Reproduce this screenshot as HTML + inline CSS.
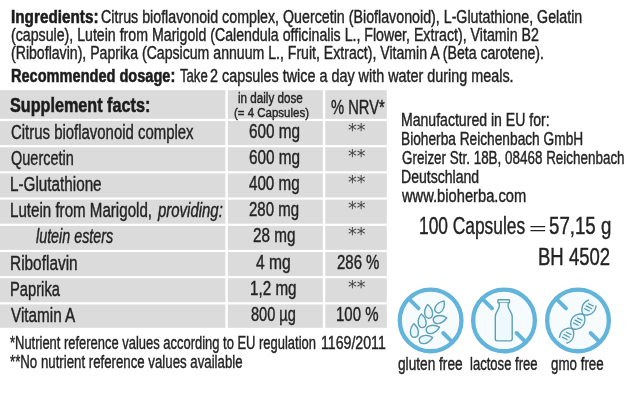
<!DOCTYPE html>
<html lang="en"><head><meta charset="utf-8"><title>Supplement facts</title>
<style>
html,body{margin:0;padding:0;background:#fff;}
body{width:633px;height:407px;position:relative;overflow:hidden;font-family:"Liberation Sans", sans-serif;color:#232323;}
.t{position:absolute;white-space:nowrap;line-height:1;transform-origin:0 0;-webkit-text-stroke:0.4px currentColor;}
.b{font-weight:700;-webkit-text-stroke-width:0.55px;}
.c{position:absolute;background:#dbdbdb;}
svg{position:absolute;left:0;top:0;}
</style></head><body>
<svg width="633" height="407" viewBox="0 0 633 407" fill="#dbdbdb">
<rect x="0.00" y="90.20" width="225.40" height="28.65"/>
<rect x="227.80" y="90.20" width="95.05" height="28.65"/>
<rect x="325.25" y="90.20" width="61.55" height="28.65"/>
<rect x="0.00" y="121.05" width="225.40" height="24.00"/>
<rect x="227.80" y="121.05" width="95.05" height="24.00"/>
<rect x="325.25" y="121.05" width="61.55" height="24.00"/>
<rect x="0.00" y="147.25" width="225.40" height="24.00"/>
<rect x="227.80" y="147.25" width="95.05" height="24.00"/>
<rect x="325.25" y="147.25" width="61.55" height="24.00"/>
<rect x="0.00" y="173.45" width="225.40" height="24.00"/>
<rect x="227.80" y="173.45" width="95.05" height="24.00"/>
<rect x="325.25" y="173.45" width="61.55" height="24.00"/>
<rect x="0.00" y="199.65" width="225.40" height="24.00"/>
<rect x="227.80" y="199.65" width="95.05" height="24.00"/>
<rect x="325.25" y="199.65" width="61.55" height="24.00"/>
<rect x="0.00" y="225.85" width="225.40" height="24.00"/>
<rect x="227.80" y="225.85" width="95.05" height="24.00"/>
<rect x="325.25" y="225.85" width="61.55" height="24.00"/>
<rect x="0.00" y="252.05" width="225.40" height="24.00"/>
<rect x="227.80" y="252.05" width="95.05" height="24.00"/>
<rect x="325.25" y="252.05" width="61.55" height="24.00"/>
<rect x="0.00" y="278.25" width="225.40" height="24.00"/>
<rect x="227.80" y="278.25" width="95.05" height="24.00"/>
<rect x="325.25" y="278.25" width="61.55" height="24.00"/>
<rect x="0.00" y="304.45" width="225.40" height="23.35"/>
<rect x="227.80" y="304.45" width="95.05" height="23.35"/>
<rect x="325.25" y="304.45" width="61.55" height="23.35"/>
</svg>
<span class="t b" style="left:10.92px;top:9.19px;font-size:17.5px;color:#1c1c1c;transform:scaleX(0.8737);">Ingredients:</span>
<span class="t" style="left:100.57px;top:9.19px;font-size:17.5px;transform:scaleX(0.8137);">Citrus bioflavonoid complex, Quercetin (Bioflavonoid), L-Glutathione, Gelatin</span>
<span class="t" style="left:11.33px;top:27.19px;font-size:17.5px;transform:scaleX(0.8096);">(capsule), Lutein from Marigold (Calendula officinalis L., Flower, Extract), Vitamin B2</span>
<span class="t" style="left:11.34px;top:45.19px;font-size:17.5px;transform:scaleX(0.8062);">(Riboflavin), Paprika (Capsicum annuum L., Fruit, Extract), Vitamin A (Beta carotene).</span>
<span class="t b" style="left:10.90px;top:68.19px;font-size:17.5px;color:#1c1c1c;transform:scaleX(0.8324);">Recommended dosage:</span>
<span class="t" style="left:180.15px;top:68.19px;font-size:17.5px;transform:scaleX(0.7505);">Take</span>
<span class="t" style="left:210.27px;top:68.19px;font-size:17.5px;transform:scaleX(0.8214);">2 capsules twice a day with water during meals.</span>
<span class="t b" style="left:9.98px;top:95.07px;font-size:20px;color:#1c1c1c;transform:scaleX(0.8091);">Supplement facts:</span>
<span class="t" style="left:238.29px;top:91.15px;font-size:14px;transform:scaleX(0.8324);">in daily dose</span>
<span class="t" style="left:233.50px;top:105.57px;font-size:13.5px;transform:scaleX(0.8503);">(= 4 Capsules)</span>
<span class="t" style="left:330.90px;top:98.49px;font-size:19.5px;transform:scaleX(0.7552);">% NRV*</span>
<span class="t" style="left:10.83px;top:123.49px;font-size:19.5px;transform:scaleX(0.7655);">Citrus bioflavonoid complex</span>
<span class="t" style="left:10.75px;top:149.49px;font-size:19.5px;transform:scaleX(0.7433);">Quercetin</span>
<span class="t" style="left:10.03px;top:175.49px;font-size:19.5px;transform:scaleX(0.7824);">L-Glutathione</span>
<span class="t" style="left:10.05px;top:201.49px;font-size:19.5px;transform:scaleX(0.7753);">Lutein from Marigold,</span>
<span class="t" style="left:158.09px;top:201.49px;font-size:19.5px;font-style:italic;transform:scaleX(0.7662);">providing:</span>
<span class="t" style="left:35.54px;top:227.49px;font-size:19.5px;font-style:italic;transform:scaleX(0.7343);">lutein esters</span>
<span class="t" style="left:10.00px;top:254.49px;font-size:19.5px;transform:scaleX(0.7903);">Riboflavin</span>
<span class="t" style="left:10.11px;top:280.49px;font-size:19.5px;transform:scaleX(0.7553);">Paprika</span>
<span class="t" style="left:10.50px;top:306.49px;font-size:19.5px;transform:scaleX(0.7827);">Vitamin A</span>
<span class="t" style="left:248.58px;top:122.49px;font-size:19.5px;transform:scaleX(0.7859);">600 mg</span>
<span class="t" style="left:248.58px;top:148.49px;font-size:19.5px;transform:scaleX(0.7859);">600 mg</span>
<span class="t" style="left:248.52px;top:174.49px;font-size:19.5px;transform:scaleX(0.7779);">400 mg</span>
<span class="t" style="left:248.54px;top:200.49px;font-size:19.5px;transform:scaleX(0.7685);">280 mg</span>
<span class="t" style="left:252.70px;top:226.49px;font-size:19.5px;transform:scaleX(0.7829);">28 mg</span>
<span class="t" style="left:256.31px;top:253.49px;font-size:19.5px;transform:scaleX(0.8014);">4 mg</span>
<span class="t" style="left:250.38px;top:279.49px;font-size:19.5px;transform:scaleX(0.7804);">1,2 mg</span>
<span class="t" style="left:251.22px;top:305.49px;font-size:19.5px;transform:scaleX(0.7475);">800 µg</span>
<span class="t" style="left:348.41px;top:122.19px;font-size:17.5px;color:#454545;font-family:'DejaVu Sans',sans-serif;-webkit-text-stroke-width:0px;transform:scaleX(1.0026);">**</span>
<span class="t" style="left:348.41px;top:148.19px;font-size:17.5px;color:#454545;font-family:'DejaVu Sans',sans-serif;-webkit-text-stroke-width:0px;transform:scaleX(1.0026);">**</span>
<span class="t" style="left:348.41px;top:174.19px;font-size:17.5px;color:#454545;font-family:'DejaVu Sans',sans-serif;-webkit-text-stroke-width:0px;transform:scaleX(1.0026);">**</span>
<span class="t" style="left:348.41px;top:200.19px;font-size:17.5px;color:#454545;font-family:'DejaVu Sans',sans-serif;-webkit-text-stroke-width:0px;transform:scaleX(1.0026);">**</span>
<span class="t" style="left:348.41px;top:226.19px;font-size:17.5px;color:#454545;font-family:'DejaVu Sans',sans-serif;-webkit-text-stroke-width:0px;transform:scaleX(1.0026);">**</span>
<span class="t" style="left:348.41px;top:279.19px;font-size:17.5px;color:#454545;font-family:'DejaVu Sans',sans-serif;-webkit-text-stroke-width:0px;transform:scaleX(1.0026);">**</span>
<span class="t" style="left:336.73px;top:253.49px;font-size:19.5px;transform:scaleX(0.7668);">286 %</span>
<span class="t" style="left:336.24px;top:305.49px;font-size:19.5px;transform:scaleX(0.7678);">100 %</span>
<span class="t" style="left:10.30px;top:335.19px;font-size:17.5px;transform:scaleX(0.7400);">*Nutrient reference values according to EU regulation</span>
<span class="t" style="left:321.47px;top:335.19px;font-size:17.5px;transform:scaleX(0.8088);">1169/2011</span>
<span class="t" style="left:10.28px;top:354.19px;font-size:17.5px;transform:scaleX(0.7566);">**No nutrient reference values available</span>
<span class="t" style="left:401.18px;top:112.19px;font-size:17.5px;transform:scaleX(0.8039);">Manufactured in EU for:</span>
<span class="t" style="left:401.23px;top:131.19px;font-size:17.5px;transform:scaleX(0.7835);">Bioherba Reichenbach GmbH</span>
<span class="t" style="left:401.65px;top:150.19px;font-size:17.5px;transform:scaleX(0.7678);">Greizer Str. 18B, 08468 Reichenbach</span>
<span class="t" style="left:401.39px;top:169.19px;font-size:17.5px;transform:scaleX(0.8029);">Deutschland</span>
<span class="t" style="left:401.73px;top:188.19px;font-size:17.5px;transform:scaleX(0.8399);">www.bioherba.com</span>
<span class="t" style="left:418.54px;top:215.11px;font-size:23.5px;transform:scaleX(0.7380);">100 Capsules</span>
<span class="t" style="left:528.59px;top:219.61px;font-size:17px;-webkit-text-stroke-width:0px;transform:scaleX(1.7767);">=</span>
<span class="t" style="left:549.28px;top:215.11px;font-size:23.5px;transform:scaleX(0.7940);">57,15 g</span>
<span class="t" style="left:538.49px;top:246.11px;font-size:23.5px;transform:scaleX(0.7884);">BH 4502</span>
<span class="t" style="left:398.37px;top:356.19px;font-size:17.5px;transform:scaleX(0.7817);">gluten free</span>
<span class="t" style="left:469.90px;top:356.19px;font-size:17.5px;transform:scaleX(0.7467);">lactose free</span>
<span class="t" style="left:550.59px;top:356.19px;font-size:17.5px;transform:scaleX(0.7627);">gmo free</span>
<svg width="633" height="407" viewBox="0 0 633 407" fill="none">
<g stroke="#62b4da" stroke-width="4.3" fill="#f6fcfe">
<circle cx="430.6" cy="320.4" r="30.85"/>
<circle cx="504.0" cy="320.4" r="30.85"/>
<circle cx="578.0" cy="320.4" r="30.85"/>
</g>
<g stroke="#62b4da" stroke-width="3.9" stroke-linecap="round">
<path d="M408.8 298.6 L418.6 308.4 M443.2 333.0 L452.4 342.2"/>
<path d="M482.2 298.6 L492.0 308.4 M516.6 333.0 L525.8 342.2"/>
<path d="M556.2 298.6 L566.0 308.4 M590.6 333.0 L599.8 342.2"/>
</g>
<g stroke="#5f9fb6" stroke-width="1.4" stroke-linejoin="round" fill="#eaf8fc">
<path transform="translate(440.2 306.6) rotate(34)" d="M0,-6.9 C3.0,-3.8 4.2,0.2 3.9,2.8 C3.5,5.7 1.7,6.8 0,6.8 C-1.7,6.8 -3.5,5.7 -3.9,2.8 C-4.2,0.2 -3.0,-3.8 0,-6.9Z"/>
<path transform="translate(428.4 311.4) rotate(-7)" d="M0,-6.9 C3.0,-3.8 4.2,0.2 3.9,2.8 C3.5,5.7 1.7,6.8 0,6.8 C-1.7,6.8 -3.5,5.7 -3.9,2.8 C-4.2,0.2 -3.0,-3.8 0,-6.9Z"/>
<path transform="translate(440.0 319.2) rotate(78)" d="M0,-6.9 C3.0,-3.8 4.2,0.2 3.9,2.8 C3.5,5.7 1.7,6.8 0,6.8 C-1.7,6.8 -3.5,5.7 -3.9,2.8 C-4.2,0.2 -3.0,-3.8 0,-6.9Z"/>
<path transform="translate(422.0 320.8) rotate(-5)" d="M0,-6.9 C3.0,-3.8 4.2,0.2 3.9,2.8 C3.5,5.7 1.7,6.8 0,6.8 C-1.7,6.8 -3.5,5.7 -3.9,2.8 C-4.2,0.2 -3.0,-3.8 0,-6.9Z"/>
<path transform="translate(432.9 329.0) rotate(74)" d="M0,-6.9 C3.0,-3.8 4.2,0.2 3.9,2.8 C3.5,5.7 1.7,6.8 0,6.8 C-1.7,6.8 -3.5,5.7 -3.9,2.8 C-4.2,0.2 -3.0,-3.8 0,-6.9Z"/>
<path transform="translate(414.3 330.5) rotate(-4)" d="M0,-6.9 C3.0,-3.8 4.2,0.2 3.9,2.8 C3.5,5.7 1.7,6.8 0,6.8 C-1.7,6.8 -3.5,5.7 -3.9,2.8 C-4.2,0.2 -3.0,-3.8 0,-6.9Z"/>
<path transform="translate(426.0 339.1) rotate(75)" d="M0,-6.9 C3.0,-3.8 4.2,0.2 3.9,2.8 C3.5,5.7 1.7,6.8 0,6.8 C-1.7,6.8 -3.5,5.7 -3.9,2.8 C-4.2,0.2 -3.0,-3.8 0,-6.9Z"/>
</g>
<g stroke="#5f9fb6" stroke-width="1.4" stroke-linejoin="round" fill="#eef9fd">
<rect x="497.9" y="299.8" width="11.6" height="3.2" rx="0.7"/>
<path d="M499.3 303 V305.8 C499.3 309.8 495.3 311.8 495.3 316.8 V339.1 Q495.3 340.9 497.1 340.9 H510.4 Q512.2 340.9 512.2 339.1 V316.8 C512.2 311.8 508.1 309.8 508.1 305.8 V303"/>
</g>
<g transform="translate(577.8 321.6) rotate(-52.0)" stroke="#5f9fb6" stroke-width="1.4" stroke-linecap="round" stroke-linejoin="round">
<ellipse cx="-18.10" cy="0" rx="7.6" ry="5.6" fill="#e8f7fb" stroke="none"/>
<ellipse cx="0.00" cy="0" rx="7.6" ry="5.6" fill="#e8f7fb" stroke="none"/>
<ellipse cx="18.10" cy="0" rx="7.6" ry="5.6" fill="#e8f7fb" stroke="none"/>
<path d="M-23.53 4.65 L-22.88 5.06 L-22.22 5.41 L-21.57 5.70 L-20.92 5.94 L-20.26 6.13 L-19.61 6.27 L-18.95 6.36 L-18.30 6.40 L-17.65 6.39 L-16.99 6.33 L-16.34 6.22 L-15.69 6.06 L-15.03 5.85 L-14.38 5.59 L-13.73 5.28 L-13.07 4.91 L-12.42 4.48 L-11.77 3.98 L-11.11 3.41 L-10.46 2.73 L-9.80 1.89 L-9.15 0.56 L-8.50 -1.57 L-7.84 -2.49 L-7.19 -3.21 L-6.54 -3.82 L-5.88 -4.34 L-5.23 -4.78 L-4.58 -5.17 L-3.92 -5.50 L-3.27 -5.78 L-2.61 -6.00 L-1.96 -6.18 L-1.31 -6.30 L-0.65 -6.38 L0.00 -6.40 L0.65 -6.38 L1.31 -6.30 L1.96 -6.18 L2.61 -6.00 L3.27 -5.78 L3.92 -5.50 L4.58 -5.17 L5.23 -4.78 L5.88 -4.34 L6.54 -3.82 L7.19 -3.21 L7.84 -2.49 L8.50 -1.57 L9.15 0.56 L9.80 1.89 L10.46 2.73 L11.11 3.41 L11.77 3.98 L12.42 4.48 L13.07 4.91 L13.73 5.28 L14.38 5.59 L15.03 5.85 L15.69 6.06 L16.34 6.22 L16.99 6.33 L17.65 6.39 L18.30 6.40 L18.95 6.36 L19.61 6.27 L20.26 6.13 L20.92 5.94 L21.57 5.70 L22.22 5.41 L22.88 5.06 L23.53 4.65"/>
<path d="M-23.53 -4.65 L-22.88 -5.06 L-22.22 -5.41 L-21.57 -5.70 L-20.92 -5.94 L-20.26 -6.13 L-19.61 -6.27 L-18.95 -6.36 L-18.30 -6.40 L-17.65 -6.39 L-16.99 -6.33 L-16.34 -6.22 L-15.69 -6.06 L-15.03 -5.85 L-14.38 -5.59 L-13.73 -5.28 L-13.07 -4.91 L-12.42 -4.48 L-11.77 -3.98 L-11.11 -3.41 L-10.46 -2.73 L-9.80 -1.89 L-9.15 -0.56 L-8.50 1.57 L-7.84 2.49 L-7.19 3.21 L-6.54 3.82 L-5.88 4.34 L-5.23 4.78 L-4.58 5.17 L-3.92 5.50 L-3.27 5.78 L-2.61 6.00 L-1.96 6.18 L-1.31 6.30 L-0.65 6.38 L0.00 6.40 L0.65 6.38 L1.31 6.30 L1.96 6.18 L2.61 6.00 L3.27 5.78 L3.92 5.50 L4.58 5.17 L5.23 4.78 L5.88 4.34 L6.54 3.82 L7.19 3.21 L7.84 2.49 L8.50 1.57 L9.15 -0.56 L9.80 -1.89 L10.46 -2.73 L11.11 -3.41 L11.77 -3.98 L12.42 -4.48 L13.07 -4.91 L13.73 -5.28 L14.38 -5.59 L15.03 -5.85 L15.69 -6.06 L16.34 -6.22 L16.99 -6.33 L17.65 -6.39 L18.30 -6.40 L18.95 -6.36 L19.61 -6.27 L20.26 -6.13 L20.92 -5.94 L21.57 -5.70 L22.22 -5.41 L22.88 -5.06 L23.53 -4.65"/>
<g stroke="#4f98a8" stroke-width="1.2">
<path d="M-21.80 -2.50 L-20.80 2.50"/>
<path d="M-18.60 -3.00 L-17.60 3.00"/>
<path d="M-15.40 -2.50 L-14.40 2.50"/>
<path d="M-3.70 -2.50 L-2.70 2.50"/>
<path d="M-0.50 -3.00 L0.50 3.00"/>
<path d="M2.70 -2.50 L3.70 2.50"/>
<path d="M14.40 -2.50 L15.40 2.50"/>
<path d="M17.60 -3.00 L18.60 3.00"/>
<path d="M20.80 -2.50 L21.80 2.50"/>
</g>
</g>
</svg>
</body></html>
